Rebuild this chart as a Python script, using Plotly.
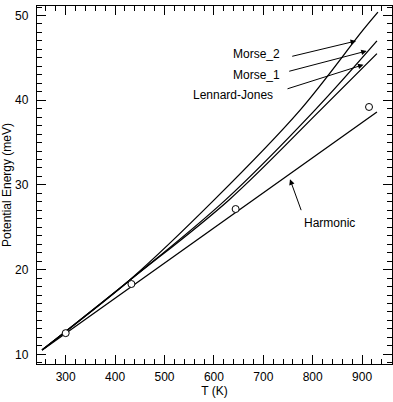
import plotly.graph_objects as go

# ---- data ----
morse2_T = [252, 300, 432, 600, 774, 902, 932]
morse2_E = [10.5, 12.7, 18.9, 28.2, 38.8, 48.3, 50.4]

morse1_T = [252, 300, 432, 623, 804, 930]
morse1_E = [10.5, 12.7, 18.85, 28.2, 38.8, 47.0]

lj_T = [252, 300, 432, 630, 815, 930]
lj_E = [10.5, 12.7, 18.85, 28.2, 38.8, 45.5]

harm_T = [252.6, 930]
harm_E = [10.5, 38.6]

exp_T = [300, 433, 644, 914]
exp_E = [12.5, 18.3, 27.15, 39.2]

X_RANGE = [241.9, 960.5]
Y_RANGE = [8.855, 51.12]

FONT = "Liberation Sans, Arial, Helvetica, sans-serif"
line_style = dict(color="black", width=1.3, shape="spline", smoothing=1.0)

fig = go.Figure()
for T, E, name in [(morse2_T, morse2_E, "Morse_2"),
                   (morse1_T, morse1_E, "Morse_1"),
                   (lj_T, lj_E, "Lennard-Jones"),
                   (harm_T, harm_E, "Harmonic")]:
    fig.add_trace(go.Scatter(x=T, y=E, mode="lines", name=name, line=line_style,
                             showlegend=False))

fig.add_trace(go.Scatter(x=exp_T, y=exp_E, mode="markers", name="Experiment",
                         marker=dict(symbol="circle", size=7, color="white",
                                     line=dict(color="black", width=1)),
                         showlegend=False))

# labels with arrows: (text, text_x, text_y, tail_x, tail_y, head_x, head_y)
labels = [
    ("Morse_2", 687, 45.44, 755.5, 45.14, 887.7, 46.99),
    ("Morse_1", 686, 42.98, 749.4, 43.37, 909.3, 45.81),
    ("Lennard-Jones", 639, 40.6, 746, 41.29, 902.8, 44.19),
    ("Harmonic", 833, 25.47, 777.7, 26.84, 754, 30.66),
]
for text, tx, ty, ax_, ay_, hx, hy in labels:
    fig.add_annotation(x=tx, y=ty, xref="x", yref="y", text=text, showarrow=False,
                       font=dict(family=FONT, size=12, color="black"))
    fig.add_annotation(x=hx, y=hy, xref="x", yref="y", ax=ax_, ay=ay_,
                       axref="x", ayref="y", text="", showarrow=True,
                       arrowhead=2, arrowsize=1.1, arrowwidth=1, arrowcolor="black",
                       standoff=0, startstandoff=0)

axis_common = dict(
    showline=True, linecolor="black", linewidth=1.3, mirror="ticks",
    ticks="inside", ticklen=9, tickwidth=1, tickcolor="black",
    showgrid=False, zeroline=False, tickmode="linear", tick0=0,
    tickfont=dict(family=FONT, size=12, color="black"),
)

fig.update_layout(
    width=393, height=402,
    margin=dict(l=37, r=1, t=6, b=38),
    paper_bgcolor="white", plot_bgcolor="white",
    font=dict(family=FONT, size=12, color="black"),
    xaxis=dict(range=X_RANGE, dtick=100,
               minor=dict(dtick=20, tick0=0, ticks="inside", ticklen=5,
                          tickcolor="black", tickwidth=1, showgrid=False),
               title=dict(text="T (K)", standoff=0,
                          font=dict(family=FONT, size=12, color="black")),
               ticklabelstandoff=1,
               **axis_common),
    yaxis=dict(range=Y_RANGE, dtick=10,
               minor=dict(dtick=1, tick0=0, ticks="inside", ticklen=5,
                          tickcolor="black", tickwidth=1, showgrid=False),
               title=dict(text="Potential Energy (meV)", standoff=4,
                          font=dict(family=FONT, size=12, color="black")),
               ticklabelstandoff=5,
               **axis_common),
)

fig.write_html("out.html")
